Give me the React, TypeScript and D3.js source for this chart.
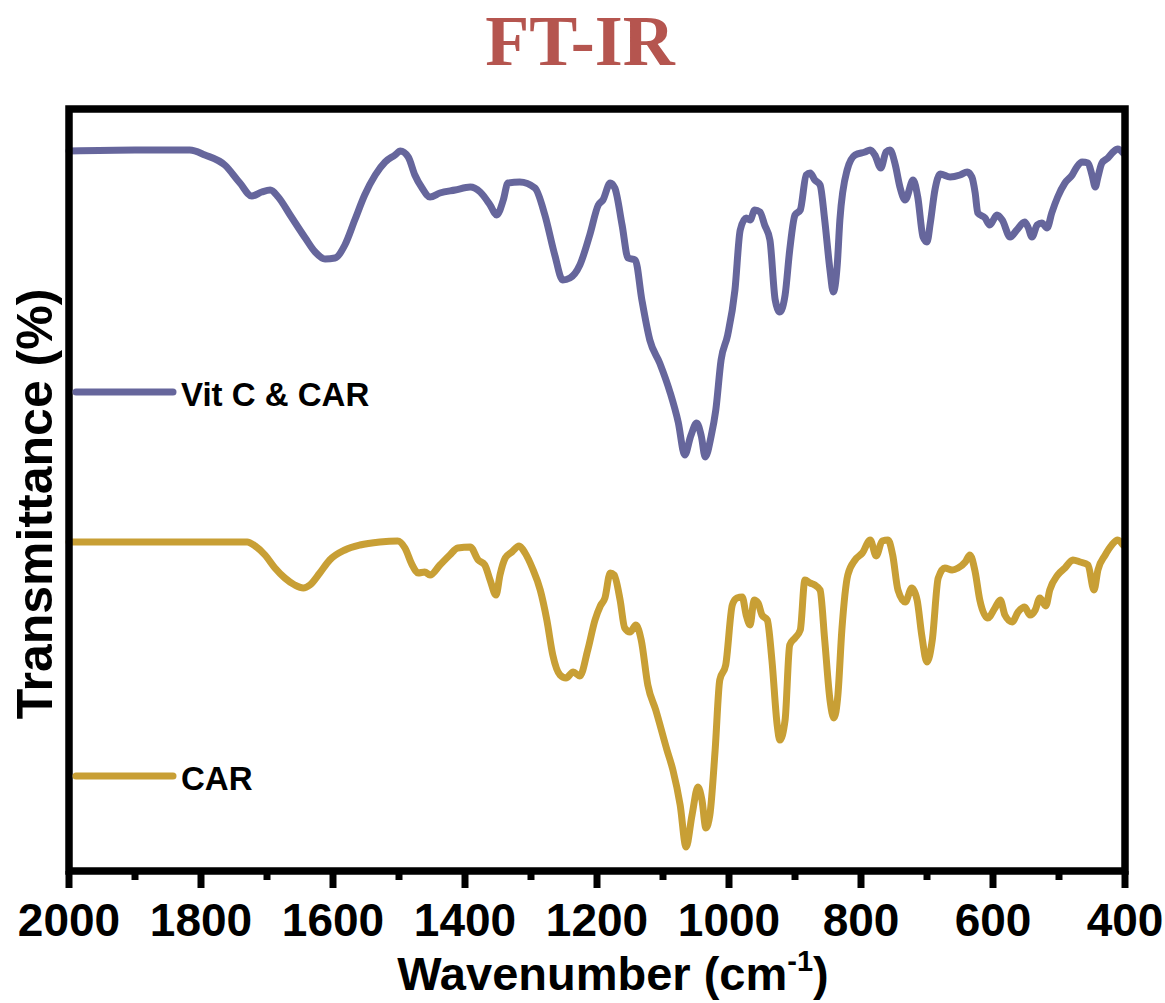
import React, { useEffect, useRef } from 'react';
import * as d3 from 'd3';

// --- Data (transmittance in arbitrary offset units) ---
const vitcWavenumber = [2000, 1900, 1817, 1794, 1764, 1741, 1723, 1708, 1695, 1683, 1665, 1642, 1627, 1612, 1597, 1582, 1567, 1552, 1536, 1521, 1506, 1498, 1486, 1476, 1465, 1453, 1438, 1415, 1392, 1377, 1362, 1352, 1342, 1335, 1317, 1294, 1279, 1264, 1252, 1241, 1226, 1211, 1198, 1191, 1180, 1173, 1162, 1153, 1142, 1132, 1120, 1105, 1089, 1077, 1067, 1058, 1049, 1042, 1036, 1027, 1020, 1012, 1002, 991, 983, 974, 968, 961, 953, 946, 938, 930, 923, 915, 908, 900, 892, 883, 877, 870, 862, 855, 847, 842, 836, 832, 821, 809, 794, 786, 779, 770, 762, 756, 748, 741, 733, 721, 714, 706, 700, 695, 688, 680, 665, 650, 639, 632, 627, 623, 612, 605, 594, 586, 574, 564, 552, 547, 541, 533, 526, 518, 511, 502, 491, 480, 473, 465, 456, 450, 445, 441, 435, 426, 418, 411, 403];
const vitcTransmittance = [72.0, 72.1, 72.1, 71.6, 70.6, 68.8, 67.5, 67.9, 68.1, 67.4, 65.6, 63.3, 61.9, 61.2, 61.3, 62.6, 65.1, 67.6, 69.6, 70.9, 71.6, 72.0, 71.4, 69.6, 68.3, 67.4, 67.8, 68.1, 68.4, 67.9, 66.6, 65.6, 67.1, 68.8, 68.9, 68.3, 65.6, 61.6, 59.1, 59.3, 60.6, 63.6, 66.6, 67.1, 68.8, 68.3, 64.6, 61.3, 61.1, 57.1, 53.1, 50.8, 47.8, 44.9, 41.6, 43.5, 44.8, 43.5, 41.4, 43.5, 46.1, 51.1, 53.6, 58.1, 64.1, 65.3, 65.1, 66.1, 65.9, 64.6, 63.1, 57.1, 55.9, 57.6, 62.1, 65.6, 66.1, 69.6, 69.8, 69.1, 68.6, 65.1, 60.1, 57.9, 60.6, 65.1, 70.1, 71.6, 71.9, 72.1, 71.6, 70.3, 71.9, 72.1, 70.6, 68.4, 67.1, 69.1, 67.4, 63.4, 62.9, 64.8, 68.1, 69.7, 69.4, 69.6, 69.9, 69.4, 67.8, 65.8, 65.3, 64.6, 65.6, 65.1, 63.4, 64.1, 64.9, 64.4, 63.4, 64.6, 64.8, 64.3, 65.8, 67.4, 68.8, 69.6, 70.4, 70.9, 70.8, 69.6, 68.4, 69.4, 70.8, 71.3, 71.9, 72.2, 71.8];

const carWavenumber = [2000, 1900, 1800, 1730, 1718, 1703, 1688, 1673, 1658, 1645, 1635, 1620, 1605, 1582, 1559, 1529, 1502, 1491, 1480, 1471, 1461, 1453, 1438, 1423, 1411, 1392, 1380, 1370, 1362, 1353, 1347, 1339, 1329, 1318, 1309, 1298, 1286, 1276, 1267, 1256, 1247, 1236, 1226, 1214, 1203, 1195, 1188, 1180, 1174, 1165, 1158, 1150, 1141, 1133, 1123, 1111, 1094, 1085, 1074, 1065, 1056, 1047, 1041, 1035, 1029, 1021, 1014, 1005, 995, 988, 980, 974, 968, 962, 956, 950, 942, 935, 927, 923, 915, 908, 900, 892, 885, 877, 870, 862, 855, 847, 841, 835, 829, 820, 809, 798, 786, 777, 768, 759, 752, 744, 733, 723, 715, 708, 700, 692, 683, 673, 662, 653, 642, 635, 627, 620, 608, 597, 589, 582, 571, 562, 552, 544, 536, 529, 520, 514, 502, 491, 479, 468, 456, 447, 441, 430, 420, 411, 403];
const carTransmittance = [32.9, 32.9, 32.9, 32.9, 32.5, 31.6, 30.3, 29.3, 28.6, 28.3, 28.6, 29.8, 31.1, 32.1, 32.6, 32.9, 33.0, 32.3, 30.6, 29.8, 29.9, 29.6, 30.6, 31.6, 32.3, 32.4, 31.1, 30.6, 29.1, 27.6, 29.6, 31.3, 31.9, 32.5, 31.8, 30.3, 28.1, 25.1, 21.6, 19.6, 19.3, 19.9, 19.5, 22.1, 25.1, 26.5, 27.3, 29.8, 29.6, 27.1, 24.3, 23.9, 24.6, 23.1, 18.6, 16.1, 12.1, 10.1, 6.6, 2.4, 5.6, 8.4, 7.1, 4.3, 5.6, 12.1, 19.1, 20.6, 26.6, 27.3, 27.4, 25.6, 24.6, 27.1, 26.8, 25.6, 25.1, 21.1, 14.6, 13.1, 15.1, 22.6, 23.3, 24.1, 29.1, 28.8, 28.6, 28.1, 23.1, 17.1, 15.3, 17.6, 24.1, 29.6, 31.1, 31.8, 33.1, 31.5, 33.0, 33.1, 31.6, 28.1, 26.9, 28.3, 27.1, 23.6, 20.9, 23.1, 29.3, 30.3, 30.1, 30.3, 30.9, 31.6, 29.9, 27.1, 25.3, 26.3, 27.1, 25.6, 24.9, 25.9, 26.4, 25.6, 26.1, 27.3, 26.5, 28.1, 29.6, 30.3, 31.1, 30.9, 30.6, 28.1, 30.1, 31.6, 32.6, 33.1, 32.6];

const seriesNames = ['Vit C & CAR', 'CAR'];
const seriesColors = ['#66669c', '#c89f35'];
const majorTicks = [2000, 1800, 1600, 1400, 1200, 1000, 800, 600, 400];
const minorTicks = [1900, 1700, 1500, 1300, 1100, 900, 700, 500];

const WIDTH = 1165;
const HEIGHT = 1003;
const SANS = '"Liberation Sans", Arial, Helvetica, sans-serif';

function App() {
  const svgRef = useRef(null);

  useEffect(() => {
    const svg = d3.select(svgRef.current);
    svg.selectAll('*').remove();

    const left = 69, right = 1125, top = 109, bottom = 871;

    const x = d3.scaleLinear().domain([2000, 400]).range([left, right]);
    const y = d3.scaleLinear().domain([0, 76.2]).range([bottom, top]);

    const line = d3.line()
      .x(d => x(d[0]))
      .y(d => y(d[1]))
      .curve(d3.curveMonotoneX);

    const series = [
      vitcWavenumber.map((w, i) => [w, vitcTransmittance[i]]),
      carWavenumber.map((w, i) => [w, carTransmittance[i]]),
    ];

    // spectra
    svg.append('g')
      .selectAll('path')
      .data(series)
      .join('path')
      .attr('d', d => line(d))
      .attr('fill', 'none')
      .attr('stroke', (d, i) => seriesColors[i])
      .attr('stroke-width', 7)
      .attr('stroke-linejoin', 'round')
      .attr('stroke-linecap', 'round');

    // frame
    svg.append('rect')
      .attr('x', left)
      .attr('y', top)
      .attr('width', right - left)
      .attr('height', bottom - top)
      .attr('fill', 'none')
      .attr('stroke', '#000')
      .attr('stroke-width', 7.5);

    // ticks
    svg.append('g')
      .selectAll('line')
      .data(majorTicks)
      .join('line')
      .attr('x1', d => x(d)).attr('x2', d => x(d))
      .attr('y1', bottom).attr('y2', bottom + 17)
      .attr('stroke', '#000').attr('stroke-width', 7);

    svg.append('g')
      .selectAll('line')
      .data(minorTicks)
      .join('line')
      .attr('x1', d => x(d)).attr('x2', d => x(d))
      .attr('y1', bottom).attr('y2', bottom + 9)
      .attr('stroke', '#000').attr('stroke-width', 7);

    svg.append('g')
      .selectAll('text')
      .data(majorTicks)
      .join('text')
      .attr('x', d => x(d))
      .attr('y', 936)
      .attr('text-anchor', 'middle')
      .style('font-family', SANS)
      .style('font-weight', 'bold')
      .style('font-size', '46px')
      .text(d => d);

    // axis titles
    const xTitle = svg.append('text')
      .attr('x', 613)
      .attr('y', 990)
      .attr('text-anchor', 'middle')
      .style('font-family', SANS)
      .style('font-weight', 'bold')
      .style('font-size', '47px');
    xTitle.append('tspan').text('Wavenumber (cm');
    xTitle.append('tspan').attr('dy', -19).style('font-size', '29px').text('-1');
    xTitle.append('tspan').attr('dy', 19).text(')');

    svg.append('text')
      .attr('transform', 'translate(52,504) rotate(-90)')
      .attr('text-anchor', 'middle')
      .style('font-family', SANS)
      .style('font-weight', 'bold')
      .style('font-size', '50px')
      .text('Transmittance (%)');

    // title
    svg.append('text')
      .attr('x', 580)
      .attr('y', 65)
      .attr('text-anchor', 'middle')
      .style('font-family', '"Liberation Serif", "Times New Roman", serif')
      .style('font-weight', 'bold')
      .style('font-size', '72px')
      .attr('fill', '#b5554f')
      .text('FT-IR');

    // in-plot legend labels
    const legendY = [392, 776];
    const legend = svg.append('g')
      .selectAll('g')
      .data(seriesNames)
      .join('g');
    legend.append('line')
      .attr('x1', 76).attr('x2', 173)
      .attr('y1', (d, i) => legendY[i]).attr('y2', (d, i) => legendY[i])
      .attr('stroke', (d, i) => seriesColors[i])
      .attr('stroke-width', 7)
      .attr('stroke-linecap', 'round');
    legend.append('text')
      .attr('x', 181)
      .attr('y', (d, i) => legendY[i] + 14)
      .style('font-family', SANS)
      .style('font-weight', 'bold')
      .style('font-size', '33px')
      .text(d => d);
  }, []);

  return (
    <svg
      ref={svgRef}
      width={WIDTH}
      height={HEIGHT}
      style={{ position: 'absolute', left: 0, top: 0, background: '#fff' }}
    />
  );
}

export default App;
